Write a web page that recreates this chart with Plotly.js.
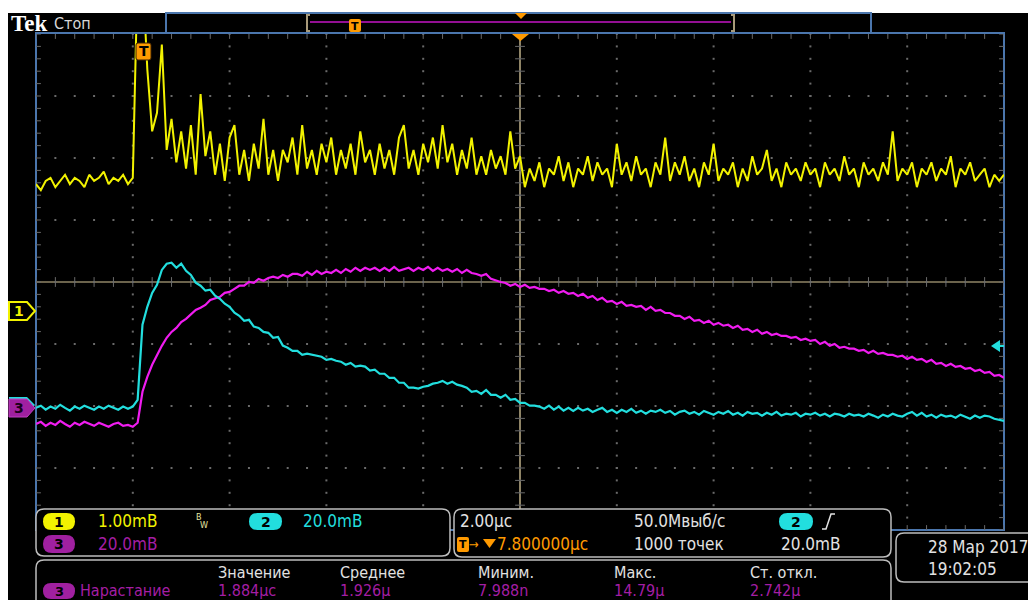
<!DOCTYPE html>
<html><head><meta charset="utf-8">
<script src="https://cdn.plot.ly/plotly-3.0.1.min.js"></script>
<style>html,body{margin:0;padding:0;background:#fff;}#chart{width:1028px;height:600px;}</style>
</head><body><div id="chart"></div>
<script>
// ---- acquisition settings ----
const T_START = -2.2;          // µs, left edge of the record (trigger = 0)
const T_END = 17.8;            // µs, right edge
const CH_SCALE = [1, 20, 20];  // mV/div for channels 1, 2, 3
const CH_POS = [-0.47, -1.98, -2.03]; // ground marker positions, divisions from centre

// ---- channel 1 (yellow), mV ----
const ch1 = [2.05,1.95,2.1,2.15,2.0,2.1,2.2,2.05,2.15,2.1,2.0,2.2,2.1,2.15,2.25,2.05,2.15,2.1,2.2,2.05,2.15,
5.5,5.5,3.9,2.9,3.2,4.3,2.6,3.1,2.4,2.9,2.3,3.0,2.2,3.5,2.5,2.9,2.2,2.7,2.1,2.8,3.0,2.2,2.6,2.1,2.7,2.3,3.1,2.2,2.6,2.1,
2.6,2.4,2.8,2.2,3.0,2.3,2.6,2.2,2.7,2.4,2.8,2.2,2.6,2.3,2.7,2.2,2.9,2.4,2.6,2.2,2.7,2.3,2.6,2.2,2.8,3.0,2.3,2.6,2.2,2.7,2.4,2.8,2.3,3.0,2.4,2.7,2.2,2.6,2.3,2.8,2.2,2.5,2.2,2.6,2.3,2.5,2.2,2.9,2.3,2.5,
2.0,2.3,2.1,2.4,2.0,2.3,2.2,2.5,2.1,2.4,2.0,2.3,2.2,2.5,2.1,2.4,2.2,2.3,2.0,2.7,2.2,2.4,2.1,2.5,2.2,2.3,2.0,2.4,2.2,2.8,2.1,2.4,2.2,2.5,2.1,2.3,2.0,2.4,2.2,2.7,2.1,2.3,2.2,2.4,2.0,2.3,2.1,2.5,2.2,2.3,
2.6,2.1,2.3,2.0,2.4,2.2,2.3,2.1,2.4,2.2,2.3,2.0,2.4,2.2,2.3,2.1,2.5,2.2,2.3,2.0,2.4,2.2,2.3,2.1,2.4,2.2,2.9,2.1,2.3,2.2,2.4,2.0,2.3,2.2,2.4,2.1,2.3,2.2,2.5,2.0,2.3,2.2,2.4,2.1,2.2,2.3,2.0,2.2,2.1,2.2];

// ---- channel 2 (cyan), mV ----
const ch2 = [-1.0,-0.3,-1.6,-0.6,-1.3,0.0,-1.0,-1.9,-0.6,-1.3,-0.3,-1.0,-1.6,-0.6,-1.3,-0.3,-1.0,-1.6,-0.6,-1.3,-0.6,
1.6,25.8,31.6,36.1,38.7,43.5,45.5,45.8,44.2,45.5,43.2,41.9,39.4,38.4,36.8,37.1,35.2,34.2,32.6,31.6,29.7,28.7,27.1,27.4,25.2,24.8,23.5,23.2,21.6,21.9,
19.1,18.4,17.4,17.4,16.1,16.5,16.1,15.8,15.5,14.5,14.8,14.2,13.9,12.9,13.5,12.3,12.6,12.3,11.0,11.3,10.0,10.0,8.7,8.7,7.1,7.1,5.5,5.5,5.2,5.8,6.1,6.8,7.1,7.7,6.8,7.4,6.5,6.1,5.5,4.2,4.5,3.5,4.8,3.2,3.2,2.3,3.2,1.6,1.9,0.6,
0.6,-0.3,-0.3,-0.6,-1.3,-0.3,-1.6,-0.6,-1.9,-1.0,
-2.0,-1.0,-1.9,-1.3,-2.3,-1.6,-1.0,-2.3,-1.6,-2.6,-1.6,-2.3,-1.3,-2.6,-1.9,-2.9,-1.9,-2.3,-1.6,-2.6,-2.0,-3.2,-2.3,-1.9,-2.9,-2.3,-3.2,-2.0,-2.6,-3.2,
-2.3,-2.9,-2.0,-3.2,-2.6,-3.5,-2.3,-2.9,-2.6,-3.5,-2.6,-3.2,-2.3,-3.5,-2.9,-3.2,-2.6,-3.8,-2.9,-3.2,-2.6,-3.5,-2.9,-3.8,-2.9,-3.2,-3.8,-2.9,-3.5,-3.2,
-3.8,-2.9,-3.5,-4.2,-3.2,-3.8,-2.9,-3.5,-3.8,-2.9,-2.3,-3.5,-2.6,-3.8,-3.2,-4.2,-3.2,-3.8,-3.5,-4.2,-3.2,-3.8,-4.5,-3.5,-4.2,-3.5,-3.8,-4.5,-4.8,-5.2];

// ---- channel 3 (magenta), mV ----
const ch3 = [-5.2,-4.5,-5.8,-4.8,-5.5,-4.2,-5.2,-6.1,-4.8,-5.5,-4.5,-5.2,-5.8,-4.8,-5.5,-6.1,-5.2,-4.8,-5.8,-5.5,-6.1,
-4.8,5.2,10.0,13.9,17.1,20.0,22.6,24.5,25.8,27.7,28.7,30.3,31.6,32.3,33.2,34.8,35.2,35.8,37.1,37.4,38.4,39.4,39.4,40.6,40.3,41.6,41.0,41.9,42.3,41.9,42.9,42.3,43.2,
43.2,42.6,43.9,42.9,44.2,43.2,43.9,43.5,44.5,43.5,44.8,43.9,45.2,44.2,45.2,44.5,45.2,44.2,45.2,44.2,45.5,44.2,44.8,45.2,44.2,45.2,44.5,45.5,44.2,45.2,44.2,44.8,43.9,44.8,43.5,44.5,43.5,43.2,42.6,43.2,41.6,41.0,40.6,40.3,39.4,40.0,39.0,
39.7,38.7,39.0,38.4,38.4,37.7,38.1,37.1,37.7,36.8,37.1,36.1,36.8,35.5,36.1,34.8,35.5,34.2,34.5,33.5,34.2,32.9,33.2,32.6,32.9,31.6,32.6,31.3,31.6,30.6,
30.6,29.7,29.7,28.7,29.4,28.1,28.4,27.4,28.1,26.8,27.4,26.5,26.8,25.8,26.5,25.2,25.5,24.5,25.2,23.9,24.5,23.5,23.9,23.2,23.2,22.6,22.9,21.9,22.3,21.6,
21.9,20.6,21.3,20.0,20.6,19.4,19.7,19.1,19.1,18.4,18.7,17.7,18.4,17.4,17.7,17.1,17.1,16.5,16.8,15.8,16.5,15.5,15.8,14.8,15.5,14.2,14.5,13.5,14.2,13.2,
13.5,12.6,12.9,11.9,12.3,11.3,11.6,10.3,10.6,9.7];

// ---- screen texts ----
const chLabels = ["1.00mB", "20.0mB", "20.0mB"];
const timeTexts = ["2.00µc", "7.800000µc", "50.0Mвыб/с", "1000 точек", "20.0mB"];
const measHeaders = ["Значение", "Среднее", "Миним.", "Макс.", "Ст. откл."];
const measName = "Нарастание";
const measValues = ["1.884µc", "1.926µ", "7.988n", "14.79µ", "2.742µ"];
const dateTexts = ["28 Мар 2017", "19:02:05"];

// ---- colours ----
const YEL = '#f2f200', CYA = '#22dede', MAG = '#f01cf0', MAGT = '#a41ea4', ORG = '#ff9a00',
      BLU = '#4b76ad', TAN = '#8f8466', GRID = '#6a6a6a', WHT = '#e2e2e2', BOX = '#bdbdbd';
const F = "'DejaVu Sans Condensed', 'DejaVu Sans', sans-serif";

const W = 1028, H = 600;
const px = x => x / W, py = y => 1 - y / H;
const P = (x, y) => px(x).toFixed(5) + ',' + py(y).toFixed(5);

function toDiv(arr, k) { return arr.map(v => CH_POS[k] + v / CH_SCALE[k]); }
function timeAxis(n) { const a = []; for (let i = 0; i < n; i++) a.push(T_START + (T_END - T_START) * i / (n - 1)); return a; }

// ---- grid decoration (generated from the 10 x 8 graticule) ----
const gx = [], gy = [];
for (let k = 1; k < 10; k++) { for (let j = 0; j <= 40; j++) { gx.push(T_START + 2 * k); gy.push(-4 + 0.2 * j); } }
for (let k = 1; k < 8; k++) { for (let j = 0; j <= 50; j++) { gx.push(T_START + 0.4 * j); gy.push(-4 + k); } }
const tvx = [], tvy = [], thx = [], thy = [];
for (let j = 0; j <= 40; j++) { const y = -4 + 0.2 * j; tvx.push(7.8, T_START, T_END); tvy.push(y, y, y); }
for (let j = 0; j <= 50; j++) { const x = T_START + 0.4 * j; thx.push(x, x, x); thy.push(0, 4, -4); }

const traces = [
  {x: gx, y: gy, mode: 'markers', marker: {symbol: 'square', size: 2, color: GRID}, hoverinfo: 'skip'},
  {x: tvx, y: tvy, mode: 'markers', marker: {symbol: 'line-ew', size: 7, line: {width: 1, color: GRID}}, hoverinfo: 'skip'},
  {x: thx, y: thy, mode: 'markers', marker: {symbol: 'line-ns', size: 7, line: {width: 1, color: GRID}}, hoverinfo: 'skip'},
  {x: timeAxis(ch3.length), y: toDiv(ch3, 2), mode: 'lines', line: {color: MAG, width: 2.2}},
  {x: timeAxis(ch2.length), y: toDiv(ch2, 1), mode: 'lines', line: {color: CYA, width: 2.2}},
  {x: timeAxis(ch1.length), y: toDiv(ch1, 0), mode: 'lines', line: {color: YEL, width: 2}}
];

const shapes = [];
function pathShape(path, fill, lineColor, lw, layer) {
  shapes.push({type: 'path', xref: 'paper', yref: 'paper', path: path, fillcolor: fill || 'rgba(0,0,0,0)',
    line: {color: lineColor || 'rgba(0,0,0,0)', width: lw || 0}, layer: layer || 'above'});
}
function rr(x0, y0, x1, y1, r) {
  return `M${P(x0 + r, y0)} L${P(x1 - r, y0)} Q${P(x1, y0)} ${P(x1, y0 + r)} L${P(x1, y1 - r)} Q${P(x1, y1)} ${P(x1 - r, y1)} L${P(x0 + r, y1)} Q${P(x0, y1)} ${P(x0, y1 - r)} L${P(x0, y0 + r)} Q${P(x0, y0)} ${P(x0 + r, y0)} Z`;
}
function poly(pts, close) { return 'M' + pts.map(p => P(p[0], p[1])).join(' L') + (close === false ? '' : ' Z'); }

// screen background
pathShape(poly([[8, 13], [1028, 13], [1028, 600], [8, 600]]), '#000', null, 0, 'below');
// centre lines
shapes.push({type: 'line', xref: 'x', yref: 'y', x0: 7.8, x1: 7.8, y0: -4, y1: 4, line: {color: TAN, width: 2}, layer: 'below'});
shapes.push({type: 'line', xref: 'x', yref: 'y', x0: T_START, x1: T_END, y0: 0, y1: 0, line: {color: TAN, width: 1.5}, layer: 'below'});
// graticule border
pathShape(poly([[36, 33], [1004, 33], [1004, 530], [36, 530]]), null, BLU, 2, 'below');
// record bar
pathShape(poly([[166, 13], [871, 13], [871, 33], [166, 33]]), null, BLU, 2, 'below');
pathShape(poly([[310, 15], [307, 15], [307, 31], [310, 31]], false), null, '#a89a7a', 2);
pathShape(poly([[731, 15], [734, 15], [734, 31], [731, 31]], false), null, '#a89a7a', 2);
pathShape(poly([[310, 22], [731, 22]], false), null, '#c414c4', 1.5);
pathShape(rr(349, 19, 361, 32, 2), ORG, null, 0);
pathShape(poly([[515, 13], [527, 13], [521, 19]]), ORG, null, 0);
// expansion point marker and trigger marker
pathShape(poly([[512, 34], [529, 34], [520.5, 41]]), ORG, null, 0);
pathShape(rr(136, 43, 151, 60, 2), ORG, '#3a2000', 1);
// channel ground markers
pathShape(poly([[9, 397], [27, 397], [35, 405], [27, 414], [9, 414]]), CYA, null, 0);
pathShape(poly([[9, 399], [27, 399], [35, 408], [27, 417], [9, 417]]), '#a020a0', '#c040c0', 1);
pathShape(poly([[9, 302], [27, 302], [35, 311], [27, 320], [9, 320]]), '#000', YEL, 2);
// trigger level arrow
pathShape(poly([[991, 346], [1000, 340], [1000, 352]]), CYA, null, 0);
pathShape(poly([[999, 346], [1004, 346]], false), null, CYA, 2);
// info boxes
pathShape(rr(36, 509, 450, 556, 8), '#000', BOX, 1.5);
pathShape(rr(454, 509, 891, 557, 8), '#000', BOX, 1.5);
pathShape(rr(36, 560, 891, 640, 8), '#000', BOX, 1.5);
pathShape(rr(896, 533, 1050, 582, 8), '#000', BOX, 1.5);
// pills
pathShape(rr(43, 513, 75, 530, 8.5), YEL, null, 0);
pathShape(rr(249, 513, 282, 530, 8.5), CYA, null, 0);
pathShape(rr(43, 535, 75, 553, 9), '#a020a0', null, 0);
pathShape(rr(779, 513, 813, 530, 8.5), CYA, null, 0);
pathShape(rr(43, 583, 75, 599, 8), '#a020a0', null, 0);
// trigger info symbols
pathShape(rr(457, 537, 469, 552, 2), ORG, null, 0);
pathShape(poly([[483, 539], [496, 539], [489.5, 548]]), ORG, null, 0);
pathShape(poly([[822, 529], [826, 529], [831, 514], [835, 514]], false), null, WHT, 1.5);

const ann = [];
function T(text, x, y, color, size, opt) {
  ann.push(Object.assign({text: text, x: px(x), y: py(y), xref: 'paper', yref: 'paper', xanchor: 'left', yanchor: 'middle',
    showarrow: false, font: {family: F, size: size || 17, color: color}}, opt || {}));
}
function C(text, x, y, color, size) { T('<b>' + text + '</b>', x, y, color, size, {xanchor: 'center', font: {family: "'DejaVu Sans', sans-serif", size: size, color: color}}); }

T('<b>Tek</b>', 9, 23, '#ffffff', 23, {font: {family: "'Liberation Serif', serif", size: 23, color: '#ffffff'}});
T('Стоп', 52, 23, '#d8d8d8', 16);
C('T', 355, 26, '#000', 11);
C('T', 143.5, 51, '#000', 14);
C('1', 19, 311, YEL, 14);
C('3', 19, 408, '#1a001a', 14);
// channel box
C('1', 59, 521.5, '#000', 14);
T(chLabels[0], 96, 521, YEL);
T('B', 194, 517, '#e6e6a0', 9);
T('W', 198, 525, '#e6e6a0', 9);
C('2', 265.5, 521.5, '#000', 14);
T(chLabels[1], 301, 521, CYA);
C('3', 59, 544, '#000', 14);
T(chLabels[2], 96, 544, MAGT);
// timebase box
T(timeTexts[0], 458, 521, WHT);
C('T', 463, 544.5, '#000', 11);
T('→', 467, 544, ORG, 13);
T(timeTexts[1], 495, 544, ORG);
T(timeTexts[2], 632, 521, WHT);
T(timeTexts[3], 632, 544, WHT);
C('2', 796, 521.5, '#000', 14);
T(timeTexts[4], 779, 544, WHT);
// date box
T(dateTexts[0], 926, 547, WHT);
T(dateTexts[1], 926, 569, WHT);
// measurements
const colX = [216, 338, 476, 612, 748];
measHeaders.forEach((h, i) => T(h, colX[i], 572, WHT, 16));
C('3', 59, 591, '#000', 13);
T(measName, 78, 590, MAGT, 16);
measValues.forEach((v, i) => T(v, colX[i], 590, MAGT, 16));

const layout = {
  width: W, height: H, margin: {l: 0, r: 0, t: 0, b: 0},
  paper_bgcolor: '#ffffff', plot_bgcolor: 'rgba(0,0,0,0)', showlegend: false,
  xaxis: {domain: [36 / W, 1004 / W], range: [T_START, T_END], visible: false, fixedrange: true},
  yaxis: {domain: [70 / H, 566 / H], range: [-4, 4], visible: false, fixedrange: true},
  shapes: shapes, annotations: ann
};
Plotly.newPlot('chart', traces, layout, {staticPlot: true, displayModeBar: false});
</script></body></html>
